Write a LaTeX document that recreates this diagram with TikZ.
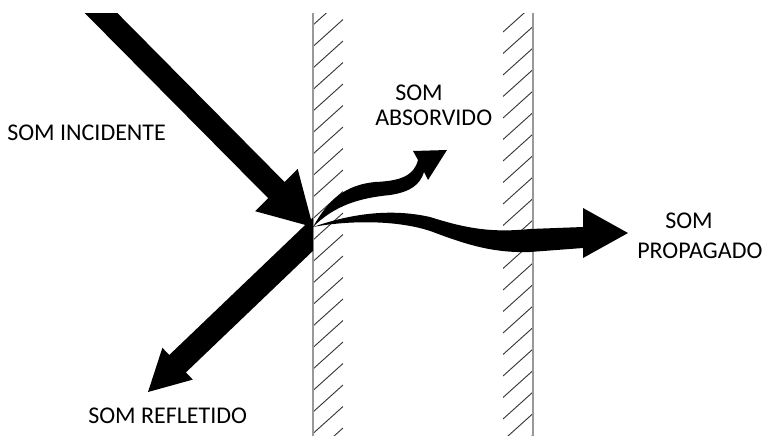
\documentclass[tikz,border=0pt]{standalone}
\usepackage{fontspec}
\setmainfont{Carlito}
\begin{document}
\begin{tikzpicture}[x=0.75pt,y=-0.75pt,
  lbl/.style={inner sep=0pt, anchor=base west, font=\fontsize{18}{21.6}\selectfont},
  wallline/.style={draw=black!40, line width=1.5pt},
  hatchline/.style={draw=black!78, line width=0.7pt},
  arrowfill/.style={fill=black, draw=none}]
\useasboundingbox (0,0) rectangle (769,436);

% key points
\coordinate (impact) at (313,227);
\coordinate (inctip) at (313,227);
\coordinate (reftip) at (148,392);
\coordinate (abstip) at (447,150);
\coordinate (protip) at (628,233);

% left wall
\begin{scope}
  \clip (313,13) rectangle (343,436);
  \foreach \k in {-1,...,20} \draw[hatchline] (313,25+21.5*\k) -- ++(30,-27);
\end{scope}
\draw[wallline] (313,13) -- (313,436);

% right wall
\begin{scope}
  \clip (503,13) rectangle (533,436);
  \foreach \k in {-1,...,20} \draw[hatchline] (503,32+21.5*\k) -- ++(30,-27);
\end{scope}
\draw[wallline] (533,13) -- (533,436);

% incident sound
\fill[arrowfill] (84.7,13) -- (117.3,13) -- (284.6,182.0) -- (297.7,169.0)
  -- (inctip) -- (255.1,211.2) -- (268.2,198.2) -- cycle;

% reflected sound
\fill[arrowfill] (313,217.5) -- (313,250.8) -- (185.9,372.4) -- (192.8,379.6)
  -- (reftip) -- (162.4,347.8) -- (169.3,355.0) -- cycle;

% absorbed sound
\fill[arrowfill] (impact) .. controls (328,200) and (345,185) .. (375,182)
  .. controls (400,181) and (414,176) .. (418,160) -- (413,151) -- (abstip)
  -- (428,180) -- (424,172) .. controls (420,185) and (410,192) .. (390,195)
  .. controls (360,198) and (335,205) .. (impact) -- cycle;

% propagated sound
\fill[arrowfill] (impact) .. controls (350,214) and (390,208) .. (430,217)
  .. controls (465,228) and (490,233) .. (530,229) -- (583,227) -- (583,208)
  -- (protip) -- (583,258) -- (583,248) -- (530,252)
  .. controls (495,253) and (470,246) .. (433,232)
  .. controls (400,220) and (350,220) .. (impact) -- cycle;

% labels
\node[lbl] (incidente) at (7,140) {SOM INCIDENTE};
\node[lbl] (refletido) at (88,423) {SOM REFLETIDO};
\node[lbl] (absorvido1) at (395,100) {SOM};
\node[lbl] (absorvido2) at (375,125) {ABSORVIDO};
\node[lbl] (propagado1) at (665,228) {SOM};
\node[lbl] (propagado2) at (637,258) {PROPAGADO};
\end{tikzpicture}
\end{document}
